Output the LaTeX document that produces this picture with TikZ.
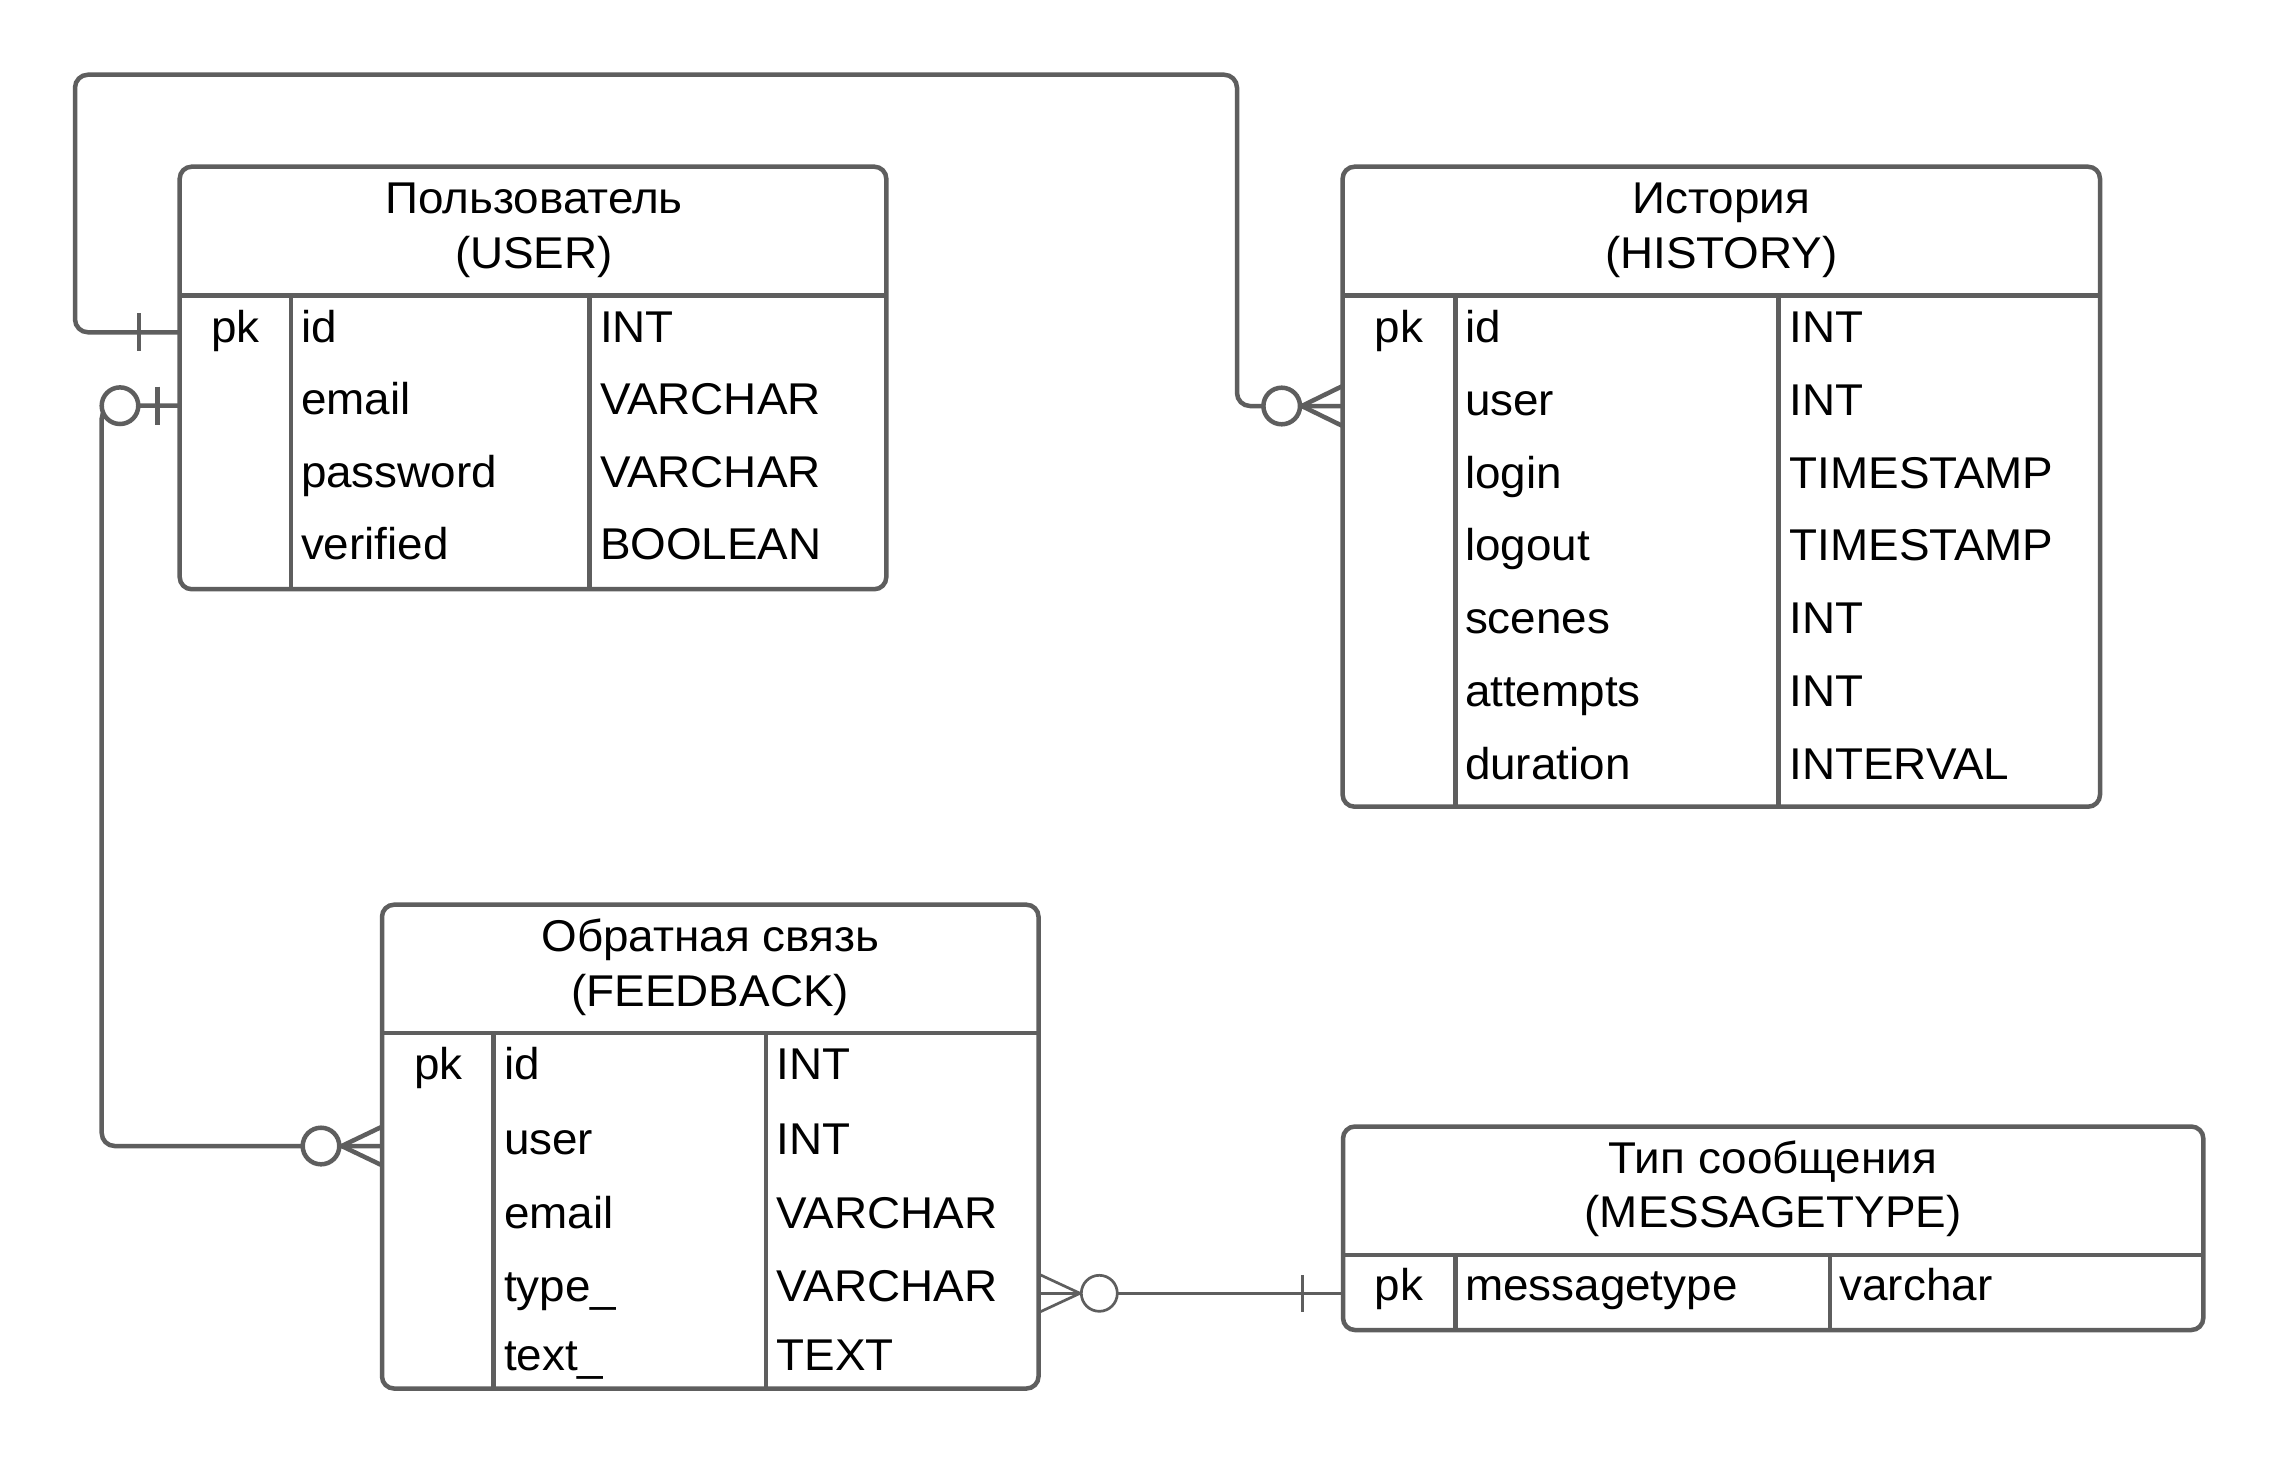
\documentclass[tikz,border=0pt]{standalone}
\usepackage{fontspec}
\setmainfont[FakeStretch=1.03]{Liberation Sans}
\definecolor{lc}{RGB}{94,94,94}
\begin{document}
\begin{tikzpicture}[x=1pt,y=-1pt,
  ln/.style={draw=lc,line width=4.5pt},
  thinln/.style={draw=lc,line width=2.7pt},
  tbl/.style={draw=lc,line width=4.5pt,rounded corners=12pt,anchor=north west,inner sep=0pt,outer sep=0pt,fill=white},
  txt/.style={inner sep=0pt,outer sep=0pt,anchor=base,font=\fontsize{44.5}{52}\selectfont},
  ltxt/.style={txt,anchor=base west},
  circ/.style={circle,draw=lc,fill=white,line width=4.5pt,minimum size=36.6pt,inner sep=0pt,outer sep=0pt},
  thincirc/.style={circ,line width=2.7pt,minimum size=36pt},
]
\useasboundingbox[fill=white] (0,0) rectangle (2282,1464);

% ---------------- tables ----------------
\node[tbl,minimum width=706.6pt,minimum height=422.5pt] (user) at (179.7,166.7) {};
\node[tbl,minimum width=757.4pt,minimum height=640pt] (hist) at (1342.6,166.7) {};
\node[tbl,minimum width=656.5pt,minimum height=483.8pt] (fb) at (382,904.7) {};
\node[tbl,minimum width=860.3pt,minimum height=203.5pt] (mt) at (1343,1126.5) {};

% inner lines
\draw[ln] (user.west |- 0,295.5) -- (user.east |- 0,295.5);
\draw[ln] (291,295.5) -- (291,0 |- user.south);
\draw[ln] (589.4,295.5) -- (589.4,0 |- user.south);

\draw[ln] (hist.west |- 0,295.5) -- (hist.east |- 0,295.5);
\draw[ln] (1455.3,295.5) -- (1455.3,0 |- hist.south);
\draw[ln] (1778.4,295.5) -- (1778.4,0 |- hist.south);

\draw[ln] (fb.west |- 0,1033.1) -- (fb.east |- 0,1033.1);
\draw[ln] (493.3,1033.1) -- (493.3,0 |- fb.south);
\draw[ln] (766.2,1033.1) -- (766.2,0 |- fb.south);

\draw[ln] (mt.west |- 0,1254.9) -- (mt.east |- 0,1254.9);
\draw[ln] (1455.3,1254.9) -- (1455.3,0 |- mt.south);
\draw[ln] (1830.1,1254.9) -- (1830.1,0 |- mt.south);

% ---------------- texts: USER ----------------
\node[txt] (user-t1) at (534,213.5) {Пользователь};
\node[txt] (user-t2) at (534,268.5) {(USER)};
\node[txt] (user-pk) at (235.4,342.2) {pk};
\node[ltxt] (user-f1) at (301,342.2) {id};
\node[ltxt] (user-f2) at (301,414.6) {email};
\node[ltxt] (user-f3) at (301,487) {password};
\node[ltxt] (user-f4) at (301,559.3) {verified};
\node[ltxt] (user-y1) at (600,342.2) {INT};
\node[ltxt] (user-y2) at (600,414.6) {VARCHAR};
\node[ltxt] (user-y3) at (600,487) {VARCHAR};
\node[ltxt] (user-y4) at (600,559.3) {BOOLEAN};

% ---------------- texts: HISTORY ----------------
\node[txt] (hist-t1) at (1721.3,213.5) {История};
\node[txt] (hist-t2) at (1721.3,268.5) {(HISTORY)};
\node[txt] (hist-pk) at (1399,342.2) {pk};
\node[ltxt] (hist-f1) at (1465,342.2) {id};
\node[ltxt] (hist-f2) at (1465,415.1) {user};
\node[ltxt] (hist-f3) at (1465,488) {login};
\node[ltxt] (hist-f4) at (1465,560.9) {logout};
\node[ltxt] (hist-f5) at (1465,633.8) {scenes};
\node[ltxt] (hist-f6) at (1465,706.7) {attempts};
\node[ltxt] (hist-f7) at (1465,779.6) {duration};
\node[ltxt] (hist-y1) at (1789.5,342.2) {INT};
\node[ltxt] (hist-y2) at (1789.5,415.1) {INT};
\node[ltxt] (hist-y3) at (1789.5,488) {TIMESTAMP};
\node[ltxt] (hist-y4) at (1789.5,560.9) {TIMESTAMP};
\node[ltxt] (hist-y5) at (1789.5,633.8) {INT};
\node[ltxt] (hist-y6) at (1789.5,706.7) {INT};
\node[ltxt] (hist-y7) at (1789.5,779.6) {INTERVAL};

% ---------------- texts: FEEDBACK ----------------
\node[txt] (fb-t1) at (710.2,951) {Обратная связь};
\node[txt] (fb-t2) at (710.2,1006) {(FEEDBACK)};
\node[txt] (fb-pk) at (438.5,1079.8) {pk};
\node[ltxt] (fb-f1) at (504,1079.8) {id};
\node[ltxt] (fb-f2) at (504,1154.5) {user};
\node[ltxt] (fb-f3) at (504,1228.3) {email};
\node[ltxt] (fb-f4) at (504,1301.6) {type\_};
\node[ltxt] (fb-f5) at (504,1370.7) {text\_};
\node[ltxt] (fb-y1) at (776.5,1079.8) {INT};
\node[ltxt] (fb-y2) at (776.5,1154.5) {INT};
\node[ltxt] (fb-y3) at (776.5,1228.3) {VARCHAR};
\node[ltxt] (fb-y4) at (776.5,1301.6) {VARCHAR};
\node[ltxt] (fb-y5) at (776.5,1370.7) {TEXT};

% ---------------- texts: MESSAGETYPE ----------------
\node[txt] (mt-t1) at (1773,1173) {Тип сообщения};
\node[txt] (mt-t2) at (1773,1227.5) {(MESSAGETYPE)};
\node[txt] (mt-pk) at (1399,1300.6) {pk};
\node[ltxt] (mt-f1) at (1465,1300.6) {messagetype};
\node[ltxt] (mt-y1) at (1839.5,1300.6) {varchar};

% ---------------- connectors ----------------
% USER.id -> HISTORY.user
\draw[ln,rounded corners=13pt] (user.west |- 0,332.3) -- (75,332.3) -- (75,74.7)
   -- (1237,74.7) -- (1237,406) -- (hist.west |- 0,406);
\draw[ln] (139,313.3) -- (139,351.3);
\draw[ln] (1301.7,406) -- (hist.west |- 0,386);
\draw[ln] (1301.7,406) -- (hist.west |- 0,406);
\draw[ln] (1301.7,406) -- (hist.west |- 0,426);
\node[circ] (c-hist) at (1281.7,406) {};

% USER.email -> FEEDBACK.user
\draw[ln,rounded corners=13pt] (user.west |- 0,405.7) -- (101.7,405.7) -- (101.7,1146)
   -- (fb.west |- 0,1146);
\draw[ln] (157.3,386.7) -- (157.3,424.7);
\node[circ] (c-user) at (120,405.7) {};
\draw[ln] (341.7,1146) -- (fb.west |- 0,1126.7);
\draw[ln] (341.7,1146) -- (fb.west |- 0,1146);
\draw[ln] (341.7,1146) -- (fb.west |- 0,1165.3);
\node[circ] (c-fb) at (321,1146) {};

% FEEDBACK.type_ -> MESSAGETYPE.messagetype
\draw[thinln] (fb.east |- 0,1274) -- (1080,1293.3);
\draw[thinln] (fb.east |- 0,1293.3) -- (1080,1293.3);
\draw[thinln] (fb.east |- 0,1312.6) -- (1080,1293.3);
\node[thincirc] (c-type) at (1099.3,1293.3) {};
\draw[thinln] (c-type.east) -- (mt.west |- 0,1293.3);
\draw[thinln] (1302.7,1275) -- (1302.7,1311.6);
\end{tikzpicture}
\end{document}
